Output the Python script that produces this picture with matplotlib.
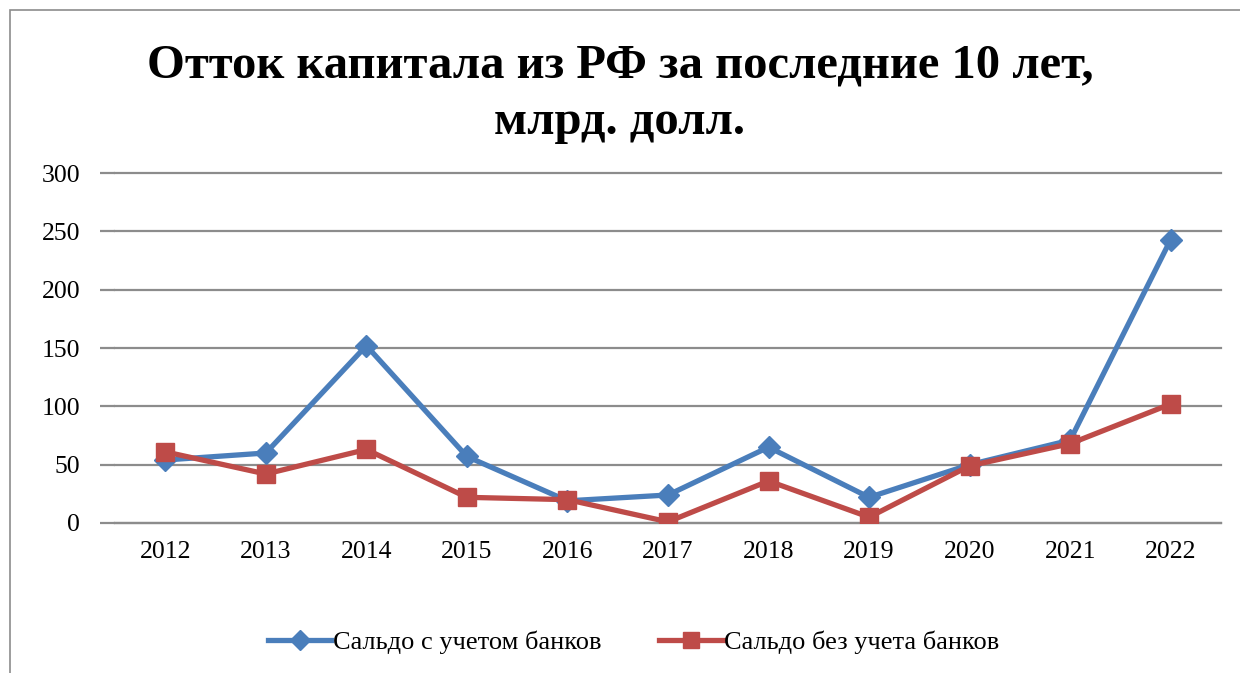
import numpy as np
import matplotlib.pyplot as plt
from matplotlib.patches import Rectangle

years = ["2012", "2013", "2014", "2015", "2016", "2017", "2018", "2019", "2020", "2021", "2022"]
with_banks = [54, 60, 152, 57, 19, 24, 65, 22, 50, 71, 243]
without_banks = [61, 42, 63, 22, 20, 1, 36, 5, 49, 68, 102]

plt.rcParams['font.family'] = ['Liberation Serif', 'DejaVu Serif']

fig = plt.figure(figsize=(12.4, 6.73), dpi=100)
ax = fig.add_axes([115 / 1240, 0.2229, 1106 / 1240, 0.52])

x = np.arange(len(years))
ax.plot(x, with_banks, color="#4A7EBB", lw=3.8, marker="D", markersize=11,
        label="Сальдо с учетом банков", zorder=3)
ax.plot(x, without_banks, color="#BE4B48", lw=3.8, marker="s", markersize=13,
        label="Сальдо без учета банков", zorder=4)

ax.set_xlim(-0.5, len(years) - 0.5)
ax.set_ylim(0, 300)
ax.set_yticks(np.arange(0, 301, 50))
ax.set_xticks(x)
ax.set_xticklabels(years)
ax.yaxis.grid(True, color="#8c8c8c", lw=1.6)
for gl in ax.get_ygridlines():
    gl.set_clip_on(False)
ax.set_axisbelow(True)
for s in ["top", "right", "left"]:
    ax.spines[s].set_visible(False)
ax.spines["bottom"].set_color("#8c8c8c")
ax.spines["bottom"].set_linewidth(1.6)
ax.tick_params(axis="x", length=0, labelsize=18.5, pad=13)
ax.tick_params(axis="y", length=11, width=1.6, color="#8c8c8c", labelsize=18.5, pad=14)

fig.text(0.5, 0.903, "Отток капитала из РФ за последние 10 лет,", ha="center", va="center",
         fontsize=35, fontweight="bold")
fig.text(0.5, 0.818, "млрд. долл.", ha="center", va="center", fontsize=35, fontweight="bold")

fig.legend(loc="center", bbox_to_anchor=(0.511, 0.045), ncol=2, frameon=False, fontsize=19,
           handlelength=2.4, columnspacing=2.2, handletextpad=0.05, markerscale=0.9)

fig.patches.append(Rectangle((10 / 1240, -0.1), 1.2, 1.1 - 10 / 673, transform=fig.transFigure,
                             fill=False, edgecolor="#8c8c8c", lw=1.2))

fig.savefig("out.png", dpi=100)
